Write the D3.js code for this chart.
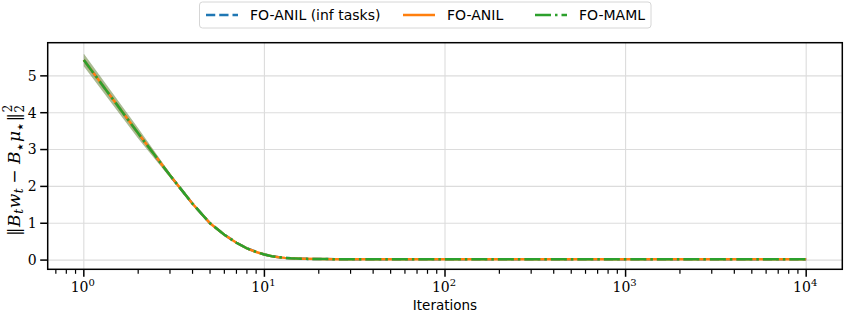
<!DOCTYPE html>
<html>
<head>
<meta charset="utf-8">
<script src="https://cdn.jsdelivr.net/npm/d3@7"></script>
<style>
  body { margin: 0; background: #fff; }
  svg { display: block; }
</style>
</head>
<body>
<div id="chart"></div>
<script>
const width = 846;
const height = 312;
const margin = {top: 42.7, right: 3.7, bottom: 42.7, left: 47.7};

// data
const iterations = [1, 2, 3, 4, 5, 6, 7, 8, 9, 10, 11, 12, 13, 14, 15, 17, 20, 25, 30, 40, 50, 70, 100, 200, 500, 1000, 2000, 5000, 10000];
const meanAnilInf = [5.43, 3.44, 2.3, 1.53, 1.0, 0.69, 0.47, 0.32, 0.22, 0.15, 0.105, 0.078, 0.06, 0.048, 0.041, 0.033, 0.028, 0.025, 0.024, 0.023, 0.022, 0.022, 0.022, 0.022, 0.023, 0.025, 0.024, 0.023, 0.022];
const meanAnil    = [5.43, 3.44, 2.3, 1.53, 1.0, 0.69, 0.47, 0.32, 0.22, 0.15, 0.105, 0.078, 0.06, 0.048, 0.041, 0.033, 0.028, 0.025, 0.024, 0.023, 0.022, 0.022, 0.022, 0.022, 0.023, 0.025, 0.024, 0.023, 0.022];
const meanMaml    = [5.43, 3.44, 2.3, 1.53, 1.0, 0.69, 0.47, 0.32, 0.22, 0.15, 0.105, 0.078, 0.06, 0.048, 0.041, 0.033, 0.028, 0.025, 0.024, 0.023, 0.022, 0.022, 0.022, 0.022, 0.023, 0.025, 0.024, 0.023, 0.022];
const stdAnilInf  = [0.17, 0.14, 0.06, 0.035, 0.022, 0.014, 0.01, 0.008, 0.006, 0.005, 0.004, 0.004, 0.003, 0.003, 0.003, 0.003, 0.003, 0.003, 0.003, 0.003, 0.003, 0.003, 0.003, 0.003, 0.003, 0.003, 0.003, 0.003, 0.003];
const stdAnil     = stdAnilInf.slice();
const stdMaml     = stdAnilInf.slice();

const seriesNames = ["FO-ANIL (inf tasks)", "FO-ANIL", "FO-MAML"];
const seriesColors = ["#1f77b4", "#ff7f0e", "#2ca02c"];
const seriesDash = ["9.25,4", null, "16,4,2.5,4"];
const seriesMeans = [meanAnilInf, meanAnil, meanMaml];
const seriesStds = [stdAnilInf, stdAnil, stdMaml];

const xMajor = [1, 10, 100, 1000, 10000];
const xTickLabels = ["0", "1", "2", "3", "4"];
const yTicks = [0, 1, 2, 3, 4, 5];

const svg = d3.select('#chart')
  .append('svg')
  .attr('width', width)
  .attr('height', height);

const x = d3.scaleLog()
  .domain([Math.pow(10, -0.2), Math.pow(10, 4.2)])
  .range([margin.left, width - margin.right]);

const y = d3.scaleLinear()
  .domain([-0.25, 5.9])
  .range([height - margin.bottom, margin.top]);

// minor ticks on the log axis
const xMinor = [];
[0.1, 1, 10, 100, 1000].forEach(dec => {
  for (let k = 2; k <= 9; k++) {
    const v = dec * k;
    if (v >= x.domain()[0] && v <= x.domain()[1]) xMinor.push(v);
  }
});

// grid
const grid = svg.append('g').attr('class', 'grid');
grid.selectAll('line.gx')
  .data(xMajor)
  .enter().append('line')
  .attr('x1', d => x(d)).attr('x2', d => x(d))
  .attr('y1', margin.top).attr('y2', height - margin.bottom)
  .attr('stroke', '#dcdcdc').attr('stroke-width', 1.1);
grid.selectAll('line.gy')
  .data(yTicks)
  .enter().append('line')
  .attr('x1', margin.left).attr('x2', width - margin.right)
  .attr('y1', d => y(d)).attr('y2', d => y(d))
  .attr('stroke', '#dcdcdc').attr('stroke-width', 1.1);

// bands
const area = d3.area()
  .x(d => x(d.t))
  .y0(d => y(d.m - d.s))
  .y1(d => y(d.m + d.s));

const line = d3.line()
  .x(d => x(d.t))
  .y(d => y(d.m));

const rows = seriesMeans.map((means, i) =>
  iterations.map((t, j) => ({t: t, m: means[j], s: seriesStds[i][j]})));

rows.forEach((r, i) => {
  svg.append('path')
    .datum(r)
    .attr('d', area)
    .attr('fill', seriesColors[i])
    .attr('fill-opacity', 0.25);
});

rows.forEach((r, i) => {
  svg.append('path')
    .datum(r)
    .attr('d', line)
    .attr('fill', 'none')
    .attr('stroke', seriesColors[i])
    .attr('stroke-width', 2.5)
    .attr('stroke-dasharray', seriesDash[i]);
});

// frame
svg.append('rect')
  .attr('x', margin.left).attr('y', margin.top)
  .attr('width', width - margin.left - margin.right)
  .attr('height', height - margin.top - margin.bottom)
  .attr('fill', 'none')
  .attr('stroke', '#000')
  .attr('stroke-width', 1.5);

// x axis ticks
const xAxisG = svg.append('g')
  .attr('transform', 'translate(0,' + (height - margin.bottom) + ')');
xAxisG.selectAll('line.minor')
  .data(xMinor)
  .enter().append('line')
  .attr('x1', d => x(d)).attr('x2', d => x(d))
  .attr('y1', 0).attr('y2', 4.5)
  .attr('stroke', '#000').attr('stroke-width', 1.2);
xAxisG.selectAll('line.major')
  .data(xMajor)
  .enter().append('line')
  .attr('x1', d => x(d)).attr('x2', d => x(d))
  .attr('y1', 0).attr('y2', 7.5)
  .attr('stroke', '#000').attr('stroke-width', 1.5);

const xLabels = xAxisG.selectAll('text.tick')
  .data(xMajor)
  .enter().append('text')
  .attr('x', d => x(d) - 1)
  .attr('y', 23)
  .attr('text-anchor', 'middle')
  .style('font-family', '"DejaVu Serif", serif')
  .style('font-size', '14px');
xLabels.append('tspan').text('10');
xLabels.append('tspan')
  .attr('dy', -6)
  .style('font-size', '10px')
  .text((d, i) => xTickLabels[i]);

// y axis ticks
const yAxisG = svg.append('g')
  .attr('transform', 'translate(' + margin.left + ',0)');
yAxisG.selectAll('line')
  .data(yTicks)
  .enter().append('line')
  .attr('x1', -7.5).attr('x2', 0)
  .attr('y1', d => y(d)).attr('y2', d => y(d))
  .attr('stroke', '#000').attr('stroke-width', 1.5);
yAxisG.selectAll('text')
  .data(yTicks)
  .enter().append('text')
  .attr('x', -11)
  .attr('y', d => y(d))
  .attr('dy', '0.35em')
  .attr('text-anchor', 'end')
  .style('font-family', '"DejaVu Serif", serif')
  .style('font-size', '14px')
  .text(d => d);

// x label
svg.append('text')
  .attr('x', (margin.left + width - margin.right) / 2)
  .attr('y', 309.5)
  .attr('text-anchor', 'middle')
  .style('font-family', '"DejaVu Sans", sans-serif')
  .style('font-size', '13.5px')
  .text('Iterations');

// y label (math)
const yl = svg.append('text')
  .attr('transform', 'translate(19.5,170) rotate(-90)')
  .attr('text-anchor', 'middle')
  .style('font-family', '"DejaVu Serif", serif')
  .style('font-size', '17px')
  .style('letter-spacing', '0.6px');
yl.append('tspan').text('‖');
yl.append('tspan').style('font-style', 'italic').text('B');
yl.append('tspan').style('font-style', 'italic').style('font-size', '12px').attr('dy', 3).text('t');
yl.append('tspan').style('font-style', 'italic').attr('dy', -3).text('w');
yl.append('tspan').style('font-style', 'italic').style('font-size', '12px').attr('dy', 3).text('t');
yl.append('tspan').attr('dy', -3).attr('dx', 4).text('−');
yl.append('tspan').style('font-style', 'italic').attr('dx', 5).text('B');
yl.append('tspan').style('font-family', '"DejaVu Sans", sans-serif').style('font-size', '8px').attr('dy', 3).text('★');
yl.append('tspan').style('font-style', 'italic').attr('dy', -3).attr('dx', 1).text('μ');
yl.append('tspan').style('font-family', '"DejaVu Sans", sans-serif').style('font-size', '8px').attr('dy', 3).text('★');
yl.append('tspan').attr('dy', -3).attr('dx', 1).text('‖');
yl.append('tspan').style('font-size', '12px').attr('dy', 4).text('2');
yl.append('tspan').style('font-size', '12px').attr('dx', -8).attr('dy', -12).text('2');

// legend
const legend = svg.append('g');
legend.append('rect')
  .attr('x', 199.5).attr('y', 2)
  .attr('width', 451.5).attr('height', 26)
  .attr('rx', 3)
  .attr('fill', '#fff')
  .attr('stroke', '#d6d6d6')
  .attr('stroke-width', 1);

const legendX = [206, 403, 535];
seriesNames.forEach((name, i) => {
  legend.append('line')
    .attr('x1', legendX[i]).attr('x2', legendX[i] + 32)
    .attr('y1', 15).attr('y2', 15)
    .attr('stroke', seriesColors[i])
    .attr('stroke-width', 2.5)
    .attr('stroke-dasharray', seriesDash[i]);
  legend.append('text')
    .attr('x', legendX[i] + 44)
    .attr('y', 15)
    .attr('dy', '0.35em')
    .style('font-family', '"DejaVu Sans", sans-serif')
    .style('font-size', '14px')
    .text(name);
});
</script>
</body>
</html>
